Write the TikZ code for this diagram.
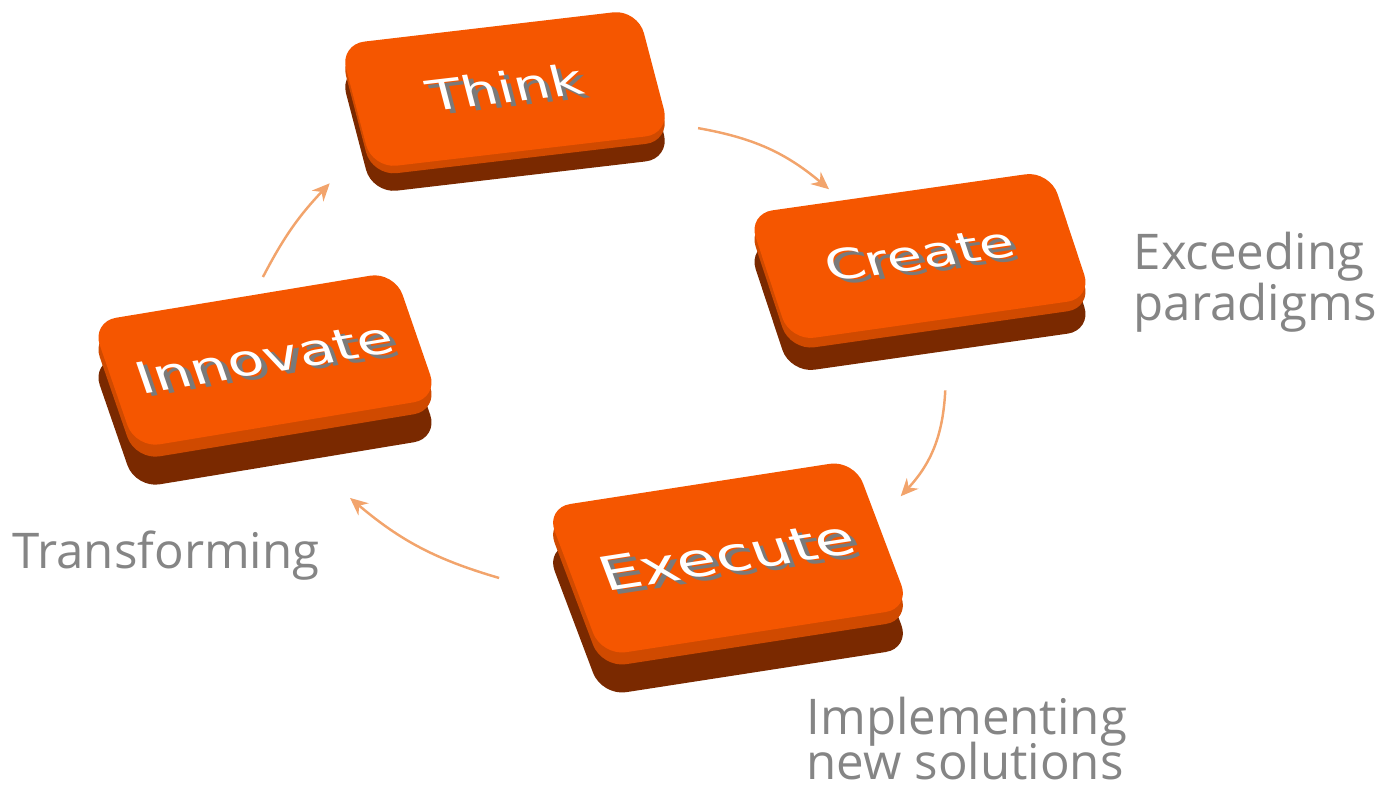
\documentclass[tikz,border=0pt]{standalone}
\usepackage{fontspec}
\usepackage{graphicx}
\usetikzlibrary{shadows,arrows.meta}
\newfontfamily\keyfont{DejaVu Sans}
\newfontfamily\notefont{Open Sans}
\definecolor{keyface}{HTML}{F55600}
\definecolor{keyside}{HTML}{7A2900}
\definecolor{keybevel}{HTML}{D04A00}
\definecolor{keyshade}{HTML}{7A7A7A}
\definecolor{flowline}{HTML}{F2A46C}
\definecolor{notegray}{HTML}{858585}
\newcommand\keylabel[1]{\scalebox{1.35}[1]{\rlap{\raisebox{-1.3pt}{\hspace{0.9pt}\textcolor{keyshade}{#1}}}\textcolor{white}{#1}}}
\tikzset{
  keycap/.style={rectangle, rounded corners=7pt, fill=keyface, inner sep=0pt, transform shape,
    drop shadow={shadow xshift=0pt, shadow yshift={-#1*1cm}, fill=keyside, opacity=1},
    drop shadow={shadow xshift=0pt, shadow yshift={-#1*0.3cm}, fill=keybevel, opacity=1}},
  flow/.style={draw=flowline, line width=0.7pt, -{Stealth[length=5pt,width=4.5pt]}},
  note/.style={font=\notefont\fontsize{14}{14.5}\selectfont, text=notegray, align=left, inner sep=0pt}
}
\begin{document}
\begin{tikzpicture}
\useasboundingbox (0,0) rectangle (13.87,7.87);

 \node[keycap=0.25, minimum width=3cm, minimum height=1.27cm, rotate=6.7, xslant=-0.14,
   font=\keyfont\fontsize{12}{12}\selectfont] (think) at (5.05,6.98) {\keylabel{Think}};
  \node[keycap=0.32, minimum width=3.05cm, minimum height=1.32cm, rotate=8.1, xslant=-0.18,
   font=\keyfont\fontsize{12}{12}\selectfont] (create) at (9.20,5.31) {\keylabel{Create}};
   \node[keycap=0.4, minimum width=3.12cm, minimum height=1.55cm, rotate=8.8, xslant=-0.21,
   font=\keyfont\fontsize{13.5}{13.5}\selectfont] (execute) at (7.28,2.29) {\keylabel{Execute}};
    \node[keycap=0.4, minimum width=3.07cm, minimum height=1.32cm, rotate=9.4, xslant=-0.17,
   font=\keyfont\fontsize{12.5}{12.5}\selectfont] (innovate) at (2.65,4.27) {\keylabel{Innovate}};

 \node[note, anchor=north west] (exceeding) at (11.33,5.56) {Exceeding\\paradigms};
 \node[note, anchor=north west] (implementing) at (8.06,0.91) {Implementing\\[-1.7pt]new solutions};
 \node[note, anchor=base west] (transforming) at (0.12,2.19) {Transforming};

 \draw[flow] ([shift={(0.27,0.06)}]think.south east) to[bend left=15] ([shift={(0.82,0.24)}]create.north west);
 \draw[flow] ([shift={(0.04,-0.70)}]create.south) to[bend left=20] ([shift={(0.46,-0.37)}]execute.north east);
\draw[flow] ([shift={(-0.74,0.04)}]execute.west) to[bend left=12] ([shift={(0.63,-0.74)}]innovate.south);
\draw[flow] ([shift={(0.20,0.19)}]innovate.north) to[bend left=8] ([shift={(-0.42,-0.14)}]think.south west);

\end{tikzpicture}
\end{document}
